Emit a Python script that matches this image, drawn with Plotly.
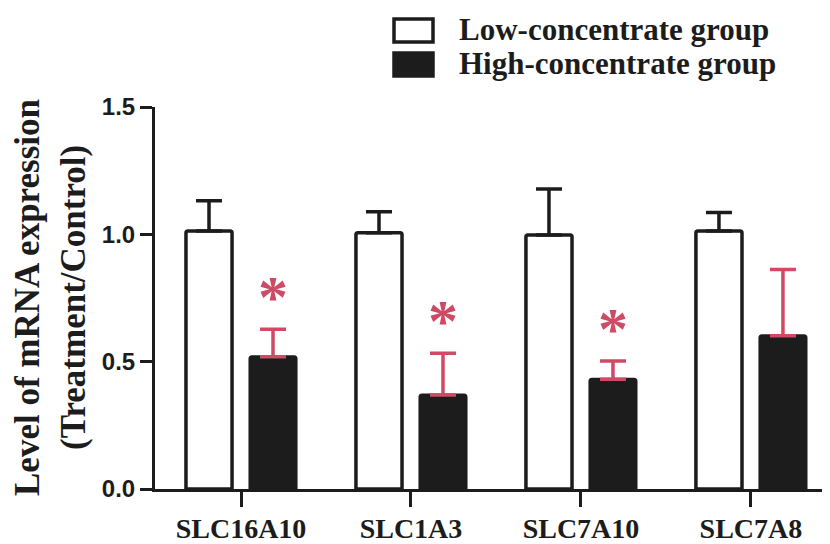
import plotly.graph_objects as go

categories = ["SLC16A10", "SLC1A3", "SLC7A10", "SLC7A8"]
low_mean = [1.013, 1.006, 0.997, 1.013]
low_sd = [0.119, 0.083, 0.181, 0.073]
high_mean = [0.519, 0.369, 0.431, 0.602]
high_sd = [0.108, 0.164, 0.072, 0.260]
significant = [True, True, True, False]
series_names = ["Low-concentrate group", "High-concentrate group"]
y_ticks = [0.0, 0.5, 1.0, 1.5]
y_ticklabels = ["0.0", "0.5", "1.0", "1.5"]

BLACK = "#1c1c1c"
RED = "#cf4a65"
SERIF = "Liberation Serif, Times New Roman, serif"
SANS = "Liberation Sans, Arial, sans-serif"

# the page body has an 8px default margin; size the figure to fit the window
OFF = 8
W, H = 830 - OFF, 544 - OFF
L, R, T = 155 - OFF, 0, 107 - OFF
B = H - (489 - OFF)
PW, PH = W - L - R, H - T - B


def px_x(px):
    return (px - OFF - L) / PW


def px_y(py):
    return (H - B - (py - OFF)) / PH


fig = go.Figure()
fig.add_trace(go.Bar(
    x=categories, y=low_mean, name=series_names[0],
    marker=dict(color="white", line=dict(color=BLACK, width=3.5)),
    error_y=dict(type="data", array=low_sd, arrayminus=[0] * 4, symmetric=False,
                 color=BLACK, thickness=3.5, width=13),
    showlegend=False,
))
fig.add_trace(go.Bar(
    x=categories, y=high_mean, name=series_names[1],
    marker=dict(color=BLACK, line=dict(color=BLACK, width=3)),
    error_y=dict(type="data", array=high_sd, arrayminus=[0] * 4, symmetric=False,
                 color=RED, thickness=3.5, width=13),
    showlegend=False,
))

annotations = []
for c, m, s, sig in zip(categories, high_mean, high_sd, significant):
    if sig:
        annotations.append(dict(
            x=c, y=m + s, xref="x", yref="y", text="*", showarrow=False,
            xshift=32, yshift=32, yanchor="middle",
            font=dict(family=SERIF, size=60, color=RED, weight="bold"),
        ))

# y-axis title (two lines)
annotations.append(dict(
    x=0, y=0.5, xref="paper", yref="paper", text="Level of mRNA expression",
    textangle=-90, showarrow=False, xanchor="center", yanchor="middle",
    xshift=(27 - OFF) - L,
    font=dict(family=SERIF, size=35, color=BLACK, weight="bold"),
))
annotations.append(dict(
    x=0, y=0.5, xref="paper", yref="paper", text="(Treatment/Control)",
    textangle=-90, showarrow=False, xanchor="center", yanchor="middle",
    xshift=(73 - OFF) - L,
    font=dict(family=SERIF, size=35, color=BLACK, weight="bold"),
))

# legend
shapes = []
leg_rows = [(19, 42, "white"), (53, 76, BLACK)]
for (y0, y1, fill), name in zip(leg_rows, series_names):
    shapes.append(dict(
        type="rect", xref="paper", yref="paper",
        x0=px_x(394), x1=px_x(433), y0=px_y(y1), y1=px_y(y0),
        fillcolor=fill, line=dict(color=BLACK, width=3.5),
    ))
    annotations.append(dict(
        x=px_x(457), y=px_y((y0 + y1) / 2 - 1), xref="paper", yref="paper",
        text=name, showarrow=False, xanchor="left", yanchor="middle",
        font=dict(family=SERIF, size=31, color=BLACK, weight="bold"),
    ))

fig.update_layout(
    width=W, height=H,
    margin=dict(l=L, r=R, t=T, b=B, pad=0),
    paper_bgcolor="white", plot_bgcolor="white",
    barmode="group", bargap=0.247, bargroupgap=0.28,
    barcornerradius=2,
    annotations=annotations, shapes=shapes,
    xaxis=dict(
        range=[-0.506, 3.465], showgrid=False, zeroline=False,
        showline=True, linecolor=BLACK, linewidth=3,
        ticks="outside", ticklen=15, tickwidth=3, tickcolor=BLACK,
        ticklabelstandoff=-3, automargin=False,
        tickfont=dict(family=SERIF, size=28, color=BLACK, weight="bold"),
    ),
    yaxis=dict(
        range=[0, 1.5], showgrid=False, zeroline=False,
        showline=True, linecolor=BLACK, linewidth=3,
        ticks="outside", ticklen=12, tickwidth=3, tickcolor=BLACK,
        tickvals=y_ticks, ticktext=y_ticklabels, automargin=False,
        tickfont=dict(family=SANS, size=24, color=BLACK, weight="bold"),
    ),
)

fig.write_html("out.html")
